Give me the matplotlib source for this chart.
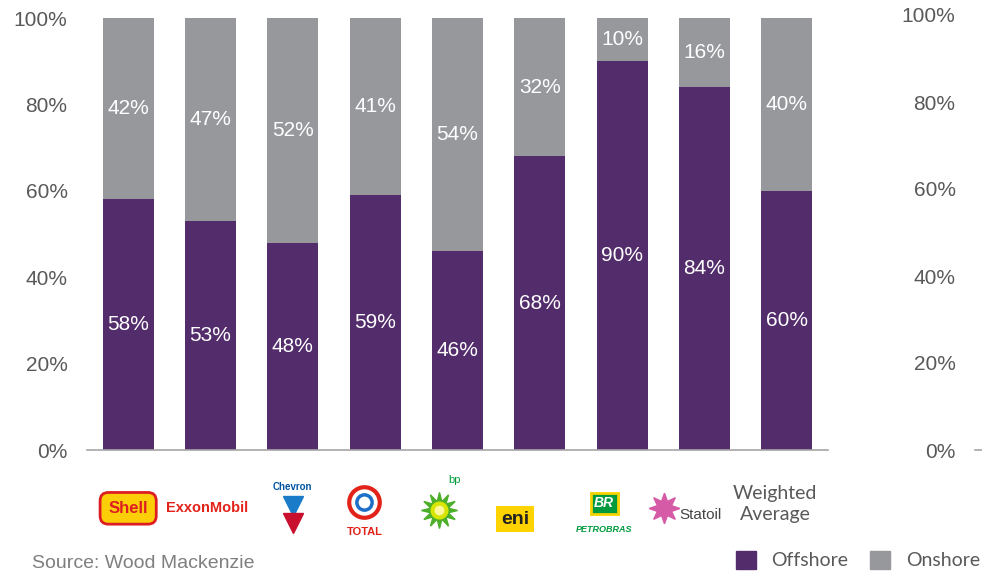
import matplotlib
matplotlib.use("Agg")
import matplotlib.pyplot as plt
from matplotlib.patches import Patch
from matplotlib.ticker import FuncFormatter
import matplotlib.transforms as mtransforms

# data
companies = ["Shell", "ExxonMobil", "Chevron", "Total", "BP", "Eni", "Petrobras", "Statoil", "Weighted\nAverage"]
offshore = [58, 53, 48, 59, 46, 68, 90, 84, 60]
onshore = [42, 47, 52, 41, 54, 32, 10, 16, 40]
yticks = [0, 20, 40, 60, 80, 100]

purple = "#532C6B"
grey = "#96989C"
txt = "#595959"

plt.rcParams["font.family"] = ["Liberation Sans", "DejaVu Sans"]

fig = plt.figure(figsize=(9.82, 5.73), dpi=100)
ax = fig.add_axes([87 / 982, 1 - 450 / 573, (828 - 87) / 982, 432 / 573])

x = list(range(len(companies)))
ax.bar(x, offshore, width=0.62, color=purple, zorder=2)
ax.bar(x, onshore, width=0.62, bottom=offshore, color=grey, zorder=2)

# value labels in the middle of each segment
for i in x:
    ax.text(i, offshore[i] / 2, f"{offshore[i]}%", ha="center", va="center",
            color="white", fontsize=15)
    ax.text(i, offshore[i] + onshore[i] / 2, f"{onshore[i]}%", ha="center", va="center",
            color="white", fontsize=15)

ax.set_xlim(-0.5, len(companies) - 0.5)
ax.set_ylim(0, 100)
ax.set_yticks(yticks)
ax.yaxis.set_major_formatter(FuncFormatter(lambda v, p: f"{v:.0f}%"))
ax.tick_params(axis="y", length=0, pad=14, labelsize=15, labelcolor=txt)
ax.set_xticks([])
for s in ["top", "right", "left"]:
    ax.spines[s].set_visible(False)
ax.spines["bottom"].set_color("#A6A6A6")
ax.spines["bottom"].set_linewidth(1.2)
ax.spines["bottom"].set_zorder(3)

# right-hand axis (labels only, sits at the far right)
ax2 = fig.add_axes([975 / 982, 1 - 450 / 573, 7 / 982, 435 / 573])
ax2.set_ylim(0, 100)
ax2.set_xlim(0, 1)
ax2.set_yticks(yticks)
ax2.yaxis.set_major_formatter(FuncFormatter(lambda v, p: f"{v:.0f}%"))
ax2.tick_params(axis="y", length=0, pad=14, labelsize=15, labelcolor=txt)
ax2.set_xticks([])
for s in ax2.spines.values():
    s.set_visible(False)
ax2.axhline(0, color="#A6A6A6", lw=1.2, clip_on=False)
ax2.patch.set_visible(False)

# company "logos" under each bar, rough stand-ins built from text and markers
tr = mtransforms.blended_transform_factory(ax.transData, ax.transAxes)
ly = -0.135
ax.text(0, ly, "Shell", transform=tr, ha="center", va="center", fontsize=12,
        fontweight="bold", color="#DD1D21",
        bbox=dict(boxstyle="round,pad=0.5", fc="#FBCE07", ec="#DD1D21", lw=2))
ax.text(1 - 0.04, ly, "ExxonMobil", transform=tr, ha="center", va="center", fontsize=10.5,
        fontweight="bold", color="#E2231A")
ax.text(2, ly + 0.05, "Chevron", transform=tr, ha="center", va="center", fontsize=7,
        fontweight="bold", color="#0054A4")
ax.plot([2], [ly + 0.005], transform=tr, marker="v", ms=15, color="#1A7BC9", clip_on=False)
ax.plot([2], [ly - 0.035], transform=tr, marker="v", ms=15, color="#C8102E", clip_on=False)
ax.plot([3 - 0.13], [ly + 0.015], transform=tr, marker="o", ms=22, mfc="white",
        mec="#E2231A", mew=3, clip_on=False)
ax.plot([3 - 0.13], [ly + 0.015], transform=tr, marker="o", ms=11, mfc="white",
        mec="#1E6FC8", mew=2.5, clip_on=False)
ax.text(3 - 0.13, ly - 0.055, "TOTAL", transform=tr, ha="center", va="center", fontsize=8,
        fontweight="bold", color="#E2231A")
ax.plot([4 - 0.23], [ly - 0.005], transform=tr, marker=(12, 1, 0), ms=26, color="#4CAF2A",
        clip_on=False)
ax.plot([4 - 0.23], [ly - 0.005], transform=tr, marker="o", ms=12, color="#D7E600",
        clip_on=False)
ax.plot([4 - 0.23], [ly - 0.005], transform=tr, marker="o", ms=6, color="#FFF7A0",
        clip_on=False)
ax.text(4 - 0.03, ly + 0.065, "bp", transform=tr, ha="center", va="center", fontsize=8,
        color="#009B3A")
ax.text(5 - 0.3, ly - 0.025, "eni", transform=tr, ha="center", va="center", fontsize=14,
        fontweight="bold", color="#222222",
        bbox=dict(boxstyle="square,pad=0.25", fc="#FFD300", ec="none"))
ax.text(6 - 0.22, ly + 0.012, "BR", transform=tr, ha="center", va="center", fontsize=10,
        fontweight="bold", fontstyle="italic", color="white",
        bbox=dict(boxstyle="square,pad=0.25", fc="#009A3E", ec="#F5D300", lw=2))
ax.text(6 - 0.22, ly - 0.05, "PETROBRAS", transform=tr, ha="center", va="center", fontsize=6.5,
        fontweight="bold", fontstyle="italic", color="#009A3E")
ax.plot([7 - 0.49], [ly], transform=tr, marker=(8, 1, 0), ms=22, color="#D65BA6",
        clip_on=False)
ax.text(7 - 0.05, ly - 0.015, "Statoil", transform=tr, ha="center", va="center", fontsize=11,
        color="#444444")
ax.text(8 - 0.14, ly + 0.01, companies[8], transform=tr, ha="center", va="center",
        fontsize=14, color=txt, family="Lato", linespacing=1.35)

# source note
fig.text(32 / 982, 1 - 563 / 573, "Source: Wood Mackenzie", ha="left", va="center",
         fontsize=14, color="#7F7F7F")

# legend
handles = [Patch(color=purple, label="Offshore"), Patch(color=grey, label="Onshore")]
leg = fig.legend(handles=handles, loc="center right", bbox_to_anchor=(0.998, 1 - 560 / 573),
                 ncol=2, frameon=False, prop={"family": "Lato", "size": 14},
                 handlelength=1.05, handleheight=1.05, columnspacing=1.1, handletextpad=0.8,
                 borderaxespad=0, borderpad=0)
for t in leg.get_texts():
    t.set_color(txt)

fig.savefig("out.png", dpi=100)
